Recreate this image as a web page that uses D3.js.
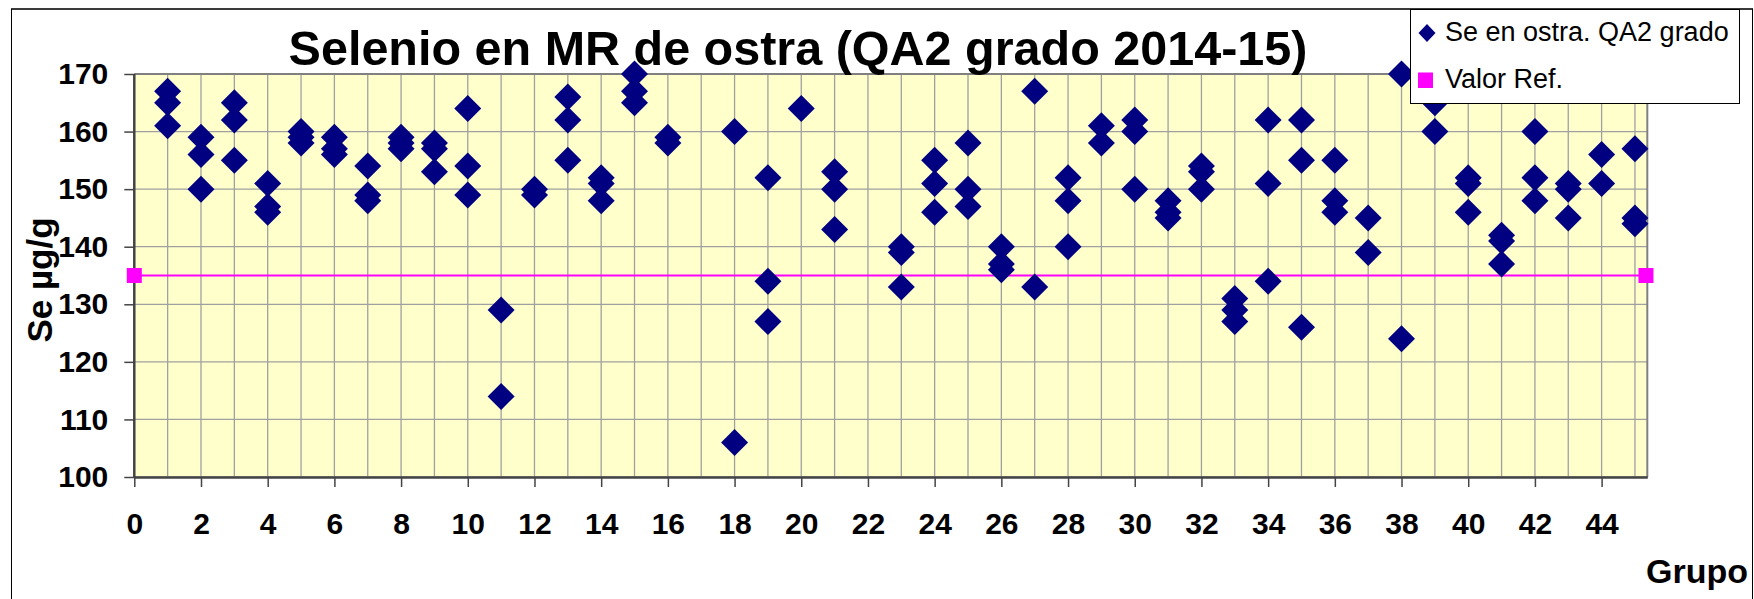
<!DOCTYPE html>
<meta charset="utf-8">
<script src="https://d3js.org/d3.v7.min.js"></script>
<style>
  body { margin: 0; background: #fff; }
  svg { font-family: "Liberation Sans", Arial, sans-serif; }
</style>
<div id="chart"></div>
<script>
// groups (x) and the Se results of each group (y)
var grupos = [1, 2, 3, 4, 5, 6, 7, 8, 9, 10, 11, 12, 13, 14, 15, 16, 18, 19, 20, 21,
  23, 24, 25, 26, 27, 28, 29, 30, 31, 32, 33, 34, 35, 36, 37, 38, 39, 40, 41, 42, 43, 44, 45];
var valores = [
  [167, 165, 161], [159, 156, 150], [165, 162, 155], [151, 147, 146], [160, 159, 158],
  [159, 157, 156], [154, 149, 148], [159, 158, 157], [158, 157, 153], [164, 154, 149],
  [129, 114], [150, 149], [166, 162, 155], [152, 151, 148], [170, 167, 165],
  [159, 158], [160, 106], [152, 134, 127], [164], [153, 150, 143],
  [140, 139, 133], [155, 151, 146], [158, 150, 147], [140, 137, 136], [167, 133],
  [152, 148, 140], [161, 158], [162, 160, 150], [148, 146, 145], [154, 153, 150],
  [131, 129, 127], [162, 151, 134], [162, 155, 126], [155, 148, 146], [145, 139],
  [170, 124], [165, 160], [152, 151, 146], [142, 141, 137], [160, 152, 148],
  [151, 150, 145], [156, 151], [157, 145, 144]
];
var valorRef = 135;
var refX = [0, 45.33];
var yTicks = [100, 110, 120, 130, 140, 150, 160, 170];
var xTicks = d3.range(0, 45, 2);
var xGrid = d3.range(0, 46, 1);

var puntos = [];
grupos.forEach(function(g, i) {
  valores[i].forEach(function(v) { puntos.push({grupo: g, se: v}); });
});

var margin = {top: 74, left: 134.3},
  width = 1513,
  height = 403;

var svg = d3.select("#chart")
  .append("svg")
    .attr("width", 1754)
    .attr("height", 599);

// outer frame
svg.append("line").attr("x1", 11).attr("x2", 1753).attr("y1", 9).attr("y2", 9)
  .style("stroke", "#3a3a3a").style("stroke-width", 2);
svg.append("line").attr("x1", 11.5).attr("x2", 11.5).attr("y1", 9).attr("y2", 599)
  .style("stroke", "#000").style("stroke-width", 1);
svg.append("line").attr("x1", 1752.5).attr("x2", 1752.5).attr("y1", 9).attr("y2", 599)
  .style("stroke", "#000").style("stroke-width", 1);

var g = svg.append("g")
  .attr("transform", "translate(" + margin.left + "," + margin.top + ")");

var x = d3.scaleLinear().domain([0, 45.37]).range([0, width]);
var y = d3.scaleLinear().domain([100, 170]).range([height, 0]);

// plot area
g.append("rect")
  .attr("width", width)
  .attr("height", height)
  .style("fill", "#ffffcc");

// grid
g.selectAll(".vgrid")
  .data(xGrid)
  .enter()
  .append("line")
    .attr("x1", function(d) { return x(d); })
    .attr("x2", function(d) { return x(d); })
    .attr("y1", 0)
    .attr("y2", height)
    .style("stroke", "#a0a0a0")
    .style("stroke-width", 1.3);
g.selectAll(".hgrid")
  .data(yTicks)
  .enter()
  .append("line")
    .attr("x1", 0)
    .attr("x2", width)
    .attr("y1", function(d) { return y(d); })
    .attr("y2", function(d) { return y(d); })
    .style("stroke", "#a0a0a0")
    .style("stroke-width", 1.3);

// top and right border
g.append("line").attr("x1", 0).attr("x2", width).attr("y1", 0).attr("y2", 0)
  .style("stroke", "#808080").style("stroke-width", 2);
g.append("line").attr("x1", width).attr("x2", width).attr("y1", 0).attr("y2", height)
  .style("stroke", "#808080").style("stroke-width", 2);

// axes
var yAxis = g.append("g")
  .call(d3.axisLeft(y).tickValues(yTicks).tickSize(10).tickPadding(16));
var xAxis = g.append("g")
  .attr("transform", "translate(0," + height + ")")
  .call(d3.axisBottom(x).tickValues(xTicks).tickSize(10).tickPadding(26).tickSizeOuter(0));
[yAxis, xAxis].forEach(function(a) {
  a.select(".domain").style("stroke", "#444").style("stroke-width", 2.5);
  a.selectAll(".tick line").style("stroke", "#444").style("stroke-width", 1.5);
  a.selectAll("text")
    .style("font-family", "'Liberation Sans', Arial, sans-serif")
    .style("font-size", "30px")
    .style("font-weight", "bold")
    .style("fill", "#000");
});
yAxis.select(".domain").attr("d", "M0,0V" + height);

// reference line
g.append("line")
  .attr("x1", x(refX[0])).attr("x2", x(refX[1]))
  .attr("y1", y(valorRef)).attr("y2", y(valorRef))
  .style("stroke", "#ff00ff")
  .style("stroke-width", 2);
g.selectAll(".ref")
  .data(refX)
  .enter()
  .append("rect")
    .attr("x", function(d) { return x(d) - 7.5; })
    .attr("y", y(valorRef) - 7.5)
    .attr("width", 15)
    .attr("height", 15)
    .style("fill", "#ff00ff");

// diamonds
var r = 13.5;
var diamante = "M0," + (-r) + "L" + r + ",0L0," + r + "L" + (-r) + ",0Z";
g.selectAll(".pt")
  .data(puntos)
  .enter()
  .append("path")
    .attr("d", diamante)
    .attr("transform", function(d) { return "translate(" + x(d.grupo) + "," + y(d.se) + ")"; })
    .style("fill", "#000080");

// titles
svg.append("text")
  .attr("x", 798)
  .attr("y", 65)
  .attr("text-anchor", "middle")
  .style("font-size", "48.5px")
  .style("font-weight", "bold")
  .text("Selenio en MR de ostra (QA2 grado 2014-15)");

svg.append("text")
  .attr("transform", "translate(52,280) rotate(-90)")
  .attr("text-anchor", "middle")
  .style("font-size", "35px")
  .style("font-weight", "bold")
  .text("Se µg/g");

svg.append("text")
  .attr("x", 1748)
  .attr("y", 583)
  .attr("text-anchor", "end")
  .style("font-size", "34px")
  .style("font-weight", "bold")
  .text("Grupo");

// legend
var legend = svg.append("g");
legend.append("rect")
  .attr("x", 1410.5).attr("y", 9.5)
  .attr("width", 329).attr("height", 94)
  .style("fill", "#fff")
  .style("stroke", "#000")
  .style("stroke-width", 1);
legend.append("path")
  .attr("d", "M0,-9L8.5,0L0,9L-8.5,0Z")
  .attr("transform", "translate(1427,33)")
  .style("fill", "#000080");
legend.append("text")
  .attr("x", 1445).attr("y", 41)
  .style("font-size", "27px")
  .text("Se en ostra. QA2 grado");
legend.append("rect")
  .attr("x", 1418).attr("y", 72.5)
  .attr("width", 15).attr("height", 15.5)
  .style("fill", "#ff00ff");
legend.append("text")
  .attr("x", 1445).attr("y", 88)
  .style("font-size", "27px")
  .text("Valor Ref.");
</script>
